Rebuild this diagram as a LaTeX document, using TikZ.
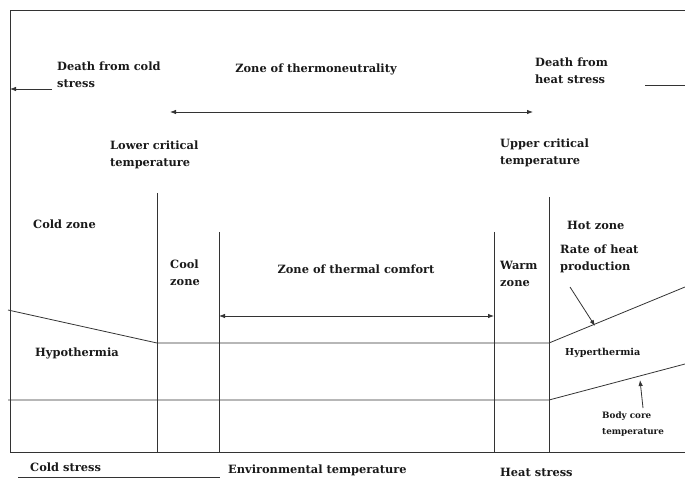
\documentclass[tikz,border=0pt]{standalone}
\usepackage{fontspec}
\setmainfont{DejaVu Serif}
\usetikzlibrary{arrows.meta}
\begin{document}
\begin{tikzpicture}[x=1pt,y=-1pt,
    line/.style={draw=black!80, line width=0.8pt},
    tip/.style={line, -{Latex[length=6pt,width=4.5pt]}},
    twotip/.style={line, {Latex[length=6pt,width=4.5pt]}-{Latex[length=6pt,width=4.5pt]}},
    lbl/.style={font=\bfseries\fontsize{11.4}{17}\selectfont, text=black!90, align=left, inner sep=0pt, anchor=west},
    small/.style={lbl, font=\bfseries\fontsize{9.6}{12}\selectfont},
    tiny/.style={lbl, font=\bfseries\fontsize{8.8}{16}\selectfont}]
        \useasboundingbox (0,0) rectangle (685,478);
        % Frame
        \draw[line] (685,10) -- (10,10) -- (10,452) -- (685,452);
        % Zone boundaries
        \coordinate (lct) at (157,193);
        \coordinate (cmfl) at (219,232);
        \coordinate (cmfr) at (494,232);
        \coordinate (uct) at (549,197);
        \draw[line] (lct) -- (157,452);
        \draw[line] (cmfl) -- (219,452);
        \draw[line] (cmfr) -- (494,452);
        \draw[line] (uct) -- (549,452);
        % Rate of heat production and body core temperature
        \coordinate (hp0) at (8,310);
        \coordinate (hp1) at (157,343);
        \coordinate (hp2) at (549,343);
        \coordinate (hp3) at (685,287);
        \draw[line] (hp0) -- (hp1) -- (hp2) -- (hp3);
        \coordinate (bc0) at (8,400);
        \coordinate (bc1) at (549,400);
        \coordinate (bc2) at (685,364);
        \draw[line] (bc0) -- (bc1) -- (bc2);
        % Labels
        \node[lbl] (coldd) at (57,75) {Death from cold\\stress};
        \node[lbl, anchor=center] (neutral) at (316,69) {Zone of thermoneutrality};
        \node[lbl] (heatd) at (535,71) {Death from\\heat stress};
        \node[lbl] (lower) at (110,155) {Lower critical\\temperature};
        \node[lbl] (upper) at (500,153) {Upper critical\\temperature};
        \node[lbl] (coldz) at (33,224) {Cold zone};
        \node[lbl] (coolz) at (170,273) {Cool\\zone};
        \node[lbl, anchor=center] (comfort) at (356,269) {Zone of thermal comfort};
        \node[lbl] (warmz) at (500,274) {Warm\\zone};
        \node[lbl] (hotz) at (567,225) {Hot zone};
        \node[lbl] (rate) at (560,259) {Rate of heat\\production};
        \node[lbl] (hypo) at (35,353) {Hypothermia};
        \node[small] (hyper) at (565,353) {Hyperthermia};
        \node[tiny] (core) at (602,424) {Body core\\temperature};
        \node[lbl] (cstress) at (30,467) {Cold stress};
        \node[lbl] (envt) at (228,470) {Environmental temperature};
        \node[lbl] (hstress) at (500,472) {Heat stress};
        % Arrows
        \coordinate (coldend) at (10,89);
        \draw[tip] (52,89) -- (coldend);
        \coordinate (heatend) at (685,85);
        \draw[line] (645,85) -- (heatend);
        \coordinate (tnl) at (170,112);
        \coordinate (tnr) at (533,112);
        \draw[twotip] (tnl) -- (tnr);
        \draw[twotip] (219,316) -- (494,316);
        \coordinate (rateend) at (595,326);
        \draw[tip] (570,287) -- (rateend);
        \coordinate (coreend) at (640,380);
        \draw[tip] (643,408) -- (coreend);
        \coordinate (csl) at (18,477);
        \draw[line] (csl) -- (220,477);
\end{tikzpicture}
\end{document}
